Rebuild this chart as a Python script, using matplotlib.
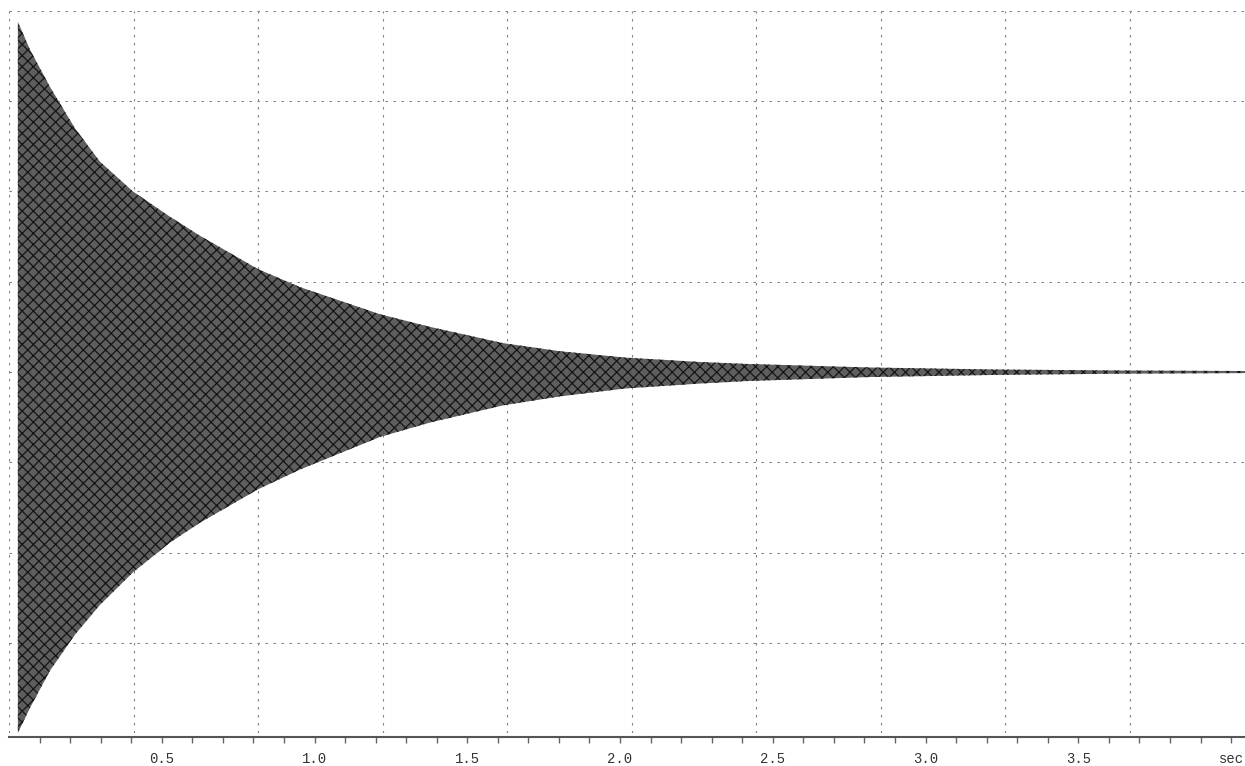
import numpy as np
import matplotlib
matplotlib.use('Agg')
import matplotlib.pyplot as plt

# Enveloppe du signal amorti (temps en secondes, amplitude en divisions)
temps = [0.029, 0.069, 0.134, 0.216, 0.298, 0.406, 0.527, 0.625, 0.815, 0.953,
         1.214, 1.378, 1.617, 1.804, 2.016, 2.262, 2.419, 2.818, 3.221, 3.620, 4.046]
haut = [3.88, 3.57, 3.16, 2.70, 2.33, 2.00, 1.72, 1.51, 1.14, 0.94,
        0.64, 0.50, 0.32, 0.23, 0.16, 0.111, 0.089, 0.05, 0.028, 0.017, 0.011]
bas = [-4.0, -3.72, -3.31, -2.91, -2.58, -2.22, -1.89, -1.67, -1.30, -1.08,
       -0.72, -0.56, -0.37, -0.27, -0.183, -0.128, -0.10, -0.056, -0.033, -0.019, -0.012]

# Graduations de l'axe du temps
graduations = [0.5, 1.0, 1.5, 2.0, 2.5, 3.0, 3.5, 4.0]
etiquettes = ['0.5', '1.0', '1.5', '2.0', '2.5', '3.0', '3.5', 'sec']

fig = plt.figure(figsize=(12.45, 7.66), dpi=100)
# axe qui déborde un peu à droite (image coupée)
ax = fig.add_axes([9 / 1245, 33 / 766, 1245 / 1245, 722 / 766])

x_max = 4.075
ax.set_xlim(0, x_max)
ax.set_ylim(-4, 4)

# Grille pointillée : 10 colonnes, 8 lignes
style_grille = dict(color='#808080', linewidth=0.8, linestyle=(0, (2.2, 5)), zorder=1)
for xg in np.linspace(0, x_max, 11):
    ax.axvline(xg, **style_grille)
for yg in np.arange(-4, 5, 1):
    ax.axhline(yg, **style_grille)

# Forme d'onde remplie (motif en damier)
plt.rcParams['hatch.linewidth'] = 0.9
ax.fill_between(temps, bas, haut, facecolor='#5e5e5e', edgecolor='#151515',
                hatch='xxx', linewidth=0, zorder=2)

# Axes
for cote in ['top', 'right', 'left']:
    ax.spines[cote].set_visible(False)
ax.spines['bottom'].set_position(('outward', 3))
ax.spines['bottom'].set_color('#555555')
ax.spines['bottom'].set_linewidth(1.5)

ax.set_xticks(graduations)
ax.set_xticklabels(etiquettes, fontfamily='Liberation Mono', fontsize=10, color='#333333')
ax.set_xticks(np.arange(0.1, 4.01, 0.1), minor=True)
ax.tick_params(axis='x', which='both', direction='out', length=4, width=1,
               color='#666666', pad=7)
ax.set_yticks([])

plt.savefig('out.png', dpi=100)
